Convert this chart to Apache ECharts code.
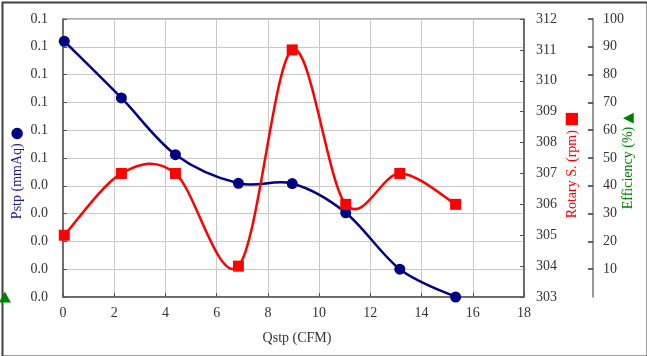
<!DOCTYPE html>
<html>
<head>
<meta charset="utf-8">
<script src="https://cdn.jsdelivr.net/npm/echarts@6/dist/echarts.min.js"></script>
<style>html,body{margin:0;padding:0;background:#fff;}#c{width:647px;height:356px;}</style>
</head>
<body>
<div id="c"></div>
<script>
// Data
var qstp = [0.05, 2.28, 4.39, 6.85, 8.95, 11.04, 13.15, 15.33];
var pstp = [0.092, 0.0716, 0.0512, 0.0409, 0.0408, 0.0303, 0.0100, 0.0000];
var rotary = [305, 307, 307, 304, 311, 306, 307, 306];
var effX = [-2.27];
var effY = [0];

var FONT = '"Liberation Serif", "DejaVu Serif", serif';
var chart = echarts.init(document.getElementById('c'), null, {renderer: 'canvas'});

function pairs(xs, ys) { return xs.map(function (x, i) { return [x, ys[i]]; }); }

// Smoothed curve (Catmull-Rom style, like a spreadsheet "smoothed line"),
// drawn segment by segment through the library's own coordinate system.
function smoothCurve(xs, ys, yAxisIndex, color) {
  return {
    type: 'custom', yAxisIndex: yAxisIndex, z: 2, clip: false,
    data: pairs(xs, ys),
    renderItem: function (params, api) {
      var i = params.dataIndex, n = xs.length;
      if (i >= n - 1) return null;
      var P = function (k) { k = Math.max(0, Math.min(n - 1, k)); return api.coord([xs[k], ys[k]]); };
      var p0 = P(i - 1), p1 = P(i), p2 = P(i + 1), p3 = P(i + 2);
      var c1 = [p1[0] + (p2[0] - p0[0]) / 6, p1[1] + (p2[1] - p0[1]) / 6];
      var c2 = [p2[0] - (p3[0] - p1[0]) / 6, p2[1] - (p3[1] - p1[1]) / 6];
      return {
        type: 'bezierCurve',
        shape: {x1: p1[0], y1: p1[1], x2: p2[0], y2: p2[1], cpx1: c1[0], cpy1: c1[1], cpx2: c2[0], cpy2: c2[1]},
        style: {stroke: color, fill: null, lineWidth: 2.5}
      };
    }
  };
}

var axisLineStyle = {color: '#555', width: 1.5};
var labelStyle = {color: '#333', fontFamily: FONT, fontSize: 14};

chart.setOption({
  animation: false,
  grid: {left: 63, right: 123, top: 19, bottom: 59, show: true, borderColor: '#555', borderWidth: 1},
  xAxis: {
    type: 'value', min: 0, max: 18, interval: 2,
    axisLine: {show: true, lineStyle: axisLineStyle},
    axisTick: {show: true, inside: true, length: 4, lineStyle: {color: '#555'}},
    axisLabel: Object.assign({margin: 9}, labelStyle),
    splitLine: {show: true, lineStyle: {color: '#c8c8c8', width: 1}}
  },
  yAxis: [
    {
      type: 'value', position: 'left', min: 0, max: 0.1, interval: 0.01,
      axisLine: {show: true, lineStyle: axisLineStyle},
      axisTick: {show: true, inside: true, length: 4, lineStyle: {color: '#555'}},
      axisLabel: Object.assign({margin: 15, formatter: function (v) {
        return (Math.round(Math.round(v * 100) / 10) / 10).toFixed(1);
      }}, labelStyle),
      splitLine: {show: true, lineStyle: {color: '#c8c8c8', width: 1}}
    },
    {
      type: 'value', position: 'right', min: 303, max: 312, interval: 1,
      axisLine: {show: true, lineStyle: axisLineStyle},
      axisTick: {show: true, inside: true, length: 4, lineStyle: {color: '#555'}},
      axisLabel: Object.assign({margin: 12}, labelStyle),
      splitLine: {show: false}
    },
    {
      type: 'value', position: 'right', offset: 69, min: 0, max: 100, interval: 10,
      axisLine: {show: true, lineStyle: {color: '#777', width: 1.5}},
      axisTick: {show: true, inside: true, length: 5, lineStyle: {color: '#333', width: 1.5}},
      axisLabel: Object.assign({margin: 10, showMinLabel: false}, labelStyle),
      splitLine: {show: false}
    }
  ],
  series: [
    smoothCurve(qstp, pstp, 0, '#000080'),
    smoothCurve(qstp, rotary, 1, '#ff0000'),
    {
      name: 'Pstp', type: 'scatter', yAxisIndex: 0, z: 3,
      data: pairs(qstp, pstp),
      symbol: 'circle', symbolSize: 11,
      itemStyle: {color: '#000080', opacity: 1}
    },
    {
      name: 'Rotary', type: 'scatter', yAxisIndex: 1, z: 3,
      data: pairs(qstp, rotary),
      symbol: 'rect', symbolSize: 11,
      itemStyle: {color: '#ff0000', opacity: 1}
    },
    {
      name: 'Efficiency', type: 'scatter', yAxisIndex: 2, clip: false, z: 3,
      data: pairs(effX, effY),
      symbol: 'triangle', symbolSize: [12, 11],
      itemStyle: {color: '#008000', opacity: 1}
    }
  ],
  graphic: [
    {type: 'rect', left: 0, top: 0, shape: {x: 1, y: 1, width: 645, height: 354},
     style: {fill: 'none', stroke: '#404040', lineWidth: 2}, silent: true},
    {type: 'text', x: 297, y: 338, style: {text: 'Qstp (CFM)', font: '14px ' + FONT, fill: '#333', textAlign: 'center', textVerticalAlign: 'middle'}},
    {type: 'text', x: 17, y: 173, rotation: Math.PI / 2,
     style: {text: '{t|Pstp (mmAq)} {s|●}', textAlign: 'center', textVerticalAlign: 'middle',
       rich: {t: {fontFamily: FONT, fontSize: 14, fill: '#1a1a8c', color: '#1a1a8c'},
              s: {fontFamily: '"DejaVu Sans"', fontSize: 15, fill: '#000080', color: '#000080'}}}},
    {type: 'text', x: 572, y: 165, rotation: Math.PI / 2,
     style: {text: '{t|Rotary S. (rpm)} {s|■}', textAlign: 'center', textVerticalAlign: 'middle',
       rich: {t: {fontFamily: FONT, fontSize: 14, fill: '#ff0000', color: '#ff0000'},
              s: {fontFamily: '"DejaVu Sans"', fontSize: 16, fill: '#ff0000', color: '#ff0000'}}}},
    {type: 'text', x: 628, y: 161, rotation: Math.PI / 2,
     style: {text: '{t|Efficiency (%)} {s|▲}', textAlign: 'center', textVerticalAlign: 'middle',
       rich: {t: {fontFamily: FONT, fontSize: 14, fill: '#008000', color: '#008000'},
              s: {fontFamily: '"DejaVu Sans"', fontSize: 14, fill: '#008000', color: '#008000'}}}}
  ]
});
</script>
</body>
</html>
